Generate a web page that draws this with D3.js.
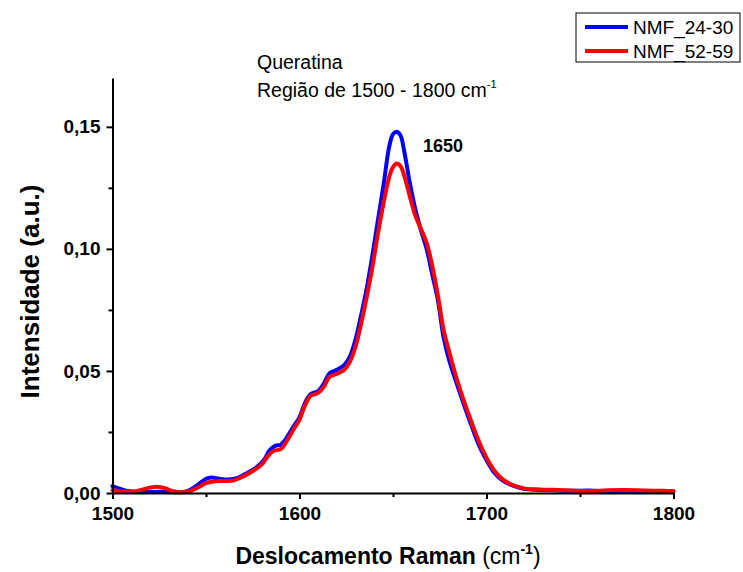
<!DOCTYPE html>
<html>
<head>
<meta charset="utf-8">
<script src="https://cdn.jsdelivr.net/npm/d3@7"></script>
<style>
  html, body { margin: 0; padding: 0; background: #fff; }
  svg { display: block; font-family: Arial, "Liberation Sans", sans-serif; }
</style>
</head>
<body>
<svg id="chart" width="743" height="572"></svg>
<script>
// Raman shift (cm-1) and intensity (a.u.) for each sample
const wnA = [1500,1505,1510,1515,1520,1525,1530,1535,1540,1545,1550,1553,1557,1562,1567,1572,1577,1581,1584,1587,1590,1593,1597,1600,1603,1606,1610,1613,1616,1620,1624,1627,1630,1633,1636,1639,1642,1645,1648,1650,1652,1654,1656,1659,1662,1665,1668,1671,1674,1677,1680,1684,1688,1692,1696,1700,1704,1708,1712,1716,1720,1726,1735,1745,1755,1765,1775,1785,1795,1800];
const nmf2430 = [0.0028,0.0015,0.0006,0.0004,0.0004,0.0005,0.0004,0.0003,0.0008,0.0030,0.0058,0.0063,0.0058,0.0055,0.0062,0.0082,0.0105,0.0135,0.0175,0.0193,0.0198,0.0225,0.0275,0.0310,0.0370,0.0405,0.0418,0.0448,0.0490,0.0505,0.0525,0.0560,0.0630,0.0730,0.0840,0.0975,0.1120,0.1265,0.1420,0.1470,0.1480,0.1465,0.1400,0.1270,0.1160,0.1075,0.1000,0.0895,0.0790,0.0640,0.0545,0.0450,0.0360,0.0275,0.0195,0.0135,0.0085,0.0055,0.0037,0.0025,0.0017,0.0013,0.0011,0.0009,0.0010,0.0007,0.0008,0.0008,0.0006,0.0005];

const wnB = [1500,1505,1510,1515,1520,1524,1528,1532,1536,1540,1545,1550,1555,1560,1565,1570,1575,1580,1583,1586,1590,1593,1597,1600,1603,1606,1610,1613,1616,1620,1624,1627,1630,1633,1636,1639,1642,1645,1648,1650,1652,1654,1656,1659,1662,1665,1668,1671,1674,1677,1680,1684,1688,1692,1696,1700,1704,1708,1712,1716,1720,1726,1735,1745,1755,1765,1775,1785,1795,1800];
const nmf5259 = [0.0012,0.0006,0.0005,0.0012,0.0022,0.0026,0.0020,0.0008,0.0003,0.0005,0.0020,0.0040,0.0048,0.0049,0.0052,0.0068,0.0090,0.0118,0.0150,0.0172,0.0180,0.0210,0.0262,0.0300,0.0360,0.0398,0.0410,0.0435,0.0475,0.0488,0.0505,0.0538,0.0600,0.0695,0.0805,0.0925,0.1065,0.1190,0.1295,0.1335,0.1350,0.1340,0.1300,0.1215,0.1135,0.1080,0.1025,0.0930,0.0810,0.0670,0.0580,0.0470,0.0375,0.0290,0.0210,0.0145,0.0093,0.0060,0.0040,0.0027,0.0019,0.0015,0.0013,0.0010,0.0008,0.0011,0.0012,0.0010,0.0009,0.0008];

const xTicks = [1500, 1600, 1700, 1800];
const xMinor = [1550, 1650, 1750];
const yTicks = [0, 0.05, 0.10, 0.15];
const yMinor = [0.025, 0.075, 0.125];
const seriesNames = ["NMF_24-30", "NMF_52-59"];
const seriesColors = ["#0000ff", "#ff0000"];

const svg = d3.select("#chart");
const plotLeft = 112.5, plotRight = 673.5, plotTop = 78, plotBottom = 493;

const x = d3.scaleLinear().domain([1500, 1800]).range([plotLeft, plotRight]);
const y = d3.scaleLinear().domain([0, 0.17]).range([plotBottom, plotTop]);
const fmt = d => d3.format(".2f")(d).replace(".", ",");

// Spectra
const line = d3.line().x(d => x(d[0])).y(d => y(d[1])).curve(d3.curveCatmullRom.alpha(0.5));
const series = [d3.zip(wnA, nmf2430), d3.zip(wnB, nmf5259)];
series.forEach((s, i) => {
  svg.append("path").datum(s)
    .attr("d", line)
    .attr("fill", "none")
    .attr("stroke", seriesColors[i])
    .attr("stroke-width", 4)
    .attr("stroke-linejoin", "round")
    .attr("stroke-linecap", "round");
});

// Axes
const xAxis = svg.append("g").attr("transform", `translate(0,${plotBottom})`)
  .call(d3.axisBottom(x).tickValues(xTicks).tickFormat(d3.format("d")).tickSize(6).tickSizeOuter(0));
svg.append("g").attr("transform", `translate(0,${plotBottom})`)
  .call(d3.axisBottom(x).tickValues(xMinor).tickFormat("").tickSize(4).tickSizeOuter(0))
  .select(".domain").remove();
const yAxis = svg.append("g").attr("transform", `translate(${plotLeft},0)`)
  .call(d3.axisLeft(y).tickValues(yTicks).tickFormat(fmt).tickSize(6).tickSizeOuter(0));
svg.append("g").attr("transform", `translate(${plotLeft},0)`)
  .call(d3.axisLeft(y).tickValues(yMinor).tickFormat("").tickSize(4).tickSizeOuter(0))
  .select(".domain").remove();

svg.selectAll(".domain, .tick line").attr("stroke", "#000").attr("stroke-width", 2);
xAxis.selectAll(".tick text").attr("font-size", 19).attr("font-weight", "bold")
  .attr("font-family", "Arial, 'Liberation Sans', sans-serif").attr("fill", "#000").attr("dy", "0.95em");
yAxis.selectAll(".tick text").attr("font-size", 19).attr("font-weight", "bold")
  .attr("font-family", "Arial, 'Liberation Sans', sans-serif").attr("fill", "#000").attr("x", -12);

// Axis titles
const xt = svg.append("text").attr("x", 388).attr("y", 564).attr("text-anchor", "middle")
  .attr("font-size", 23);
xt.append("tspan").attr("font-weight", "bold").text("Deslocamento Raman ");
xt.append("tspan").text("(cm");
xt.append("tspan").attr("font-size", 14).attr("font-weight", "bold").attr("dy", -10).text("-1");
xt.append("tspan").attr("dy", 10).text(")");

svg.append("text").attr("transform", `translate(39,${(plotTop + plotBottom) / 2 + 6}) rotate(-90)`)
  .attr("text-anchor", "middle").attr("font-size", 26).attr("font-weight", "bold")
  .text("Intensidade (a.u.)");

// Title
svg.append("text").attr("x", 257).attr("y", 69).attr("font-size", 19.5).text("Queratina");
const t2 = svg.append("text").attr("x", 257).attr("y", 97).attr("font-size", 19.5);
t2.append("tspan").text("Região de 1500 - 1800 cm");
t2.append("tspan").attr("font-size", 11).attr("dy", -9).text("-1");

// Peak label
svg.append("text").attr("x", 423).attr("y", 152).attr("font-size", 18).attr("font-weight", "bold").text("1650");

// Legend
const lg = svg.append("g");
lg.append("rect").attr("x", 576).attr("y", 13).attr("width", 164).attr("height", 49)
  .attr("fill", "#fff").attr("stroke", "#000").attr("stroke-width", 1);
seriesNames.forEach((n, i) => {
  const yy = 27 + i * 24;
  lg.append("line").attr("x1", 585).attr("x2", 628).attr("y1", yy).attr("y2", yy)
    .attr("stroke", seriesColors[i]).attr("stroke-width", 4);
  lg.append("text").attr("x", 633).attr("y", yy + 7).attr("font-size", 19).text(n);
});
</script>
</body>
</html>
